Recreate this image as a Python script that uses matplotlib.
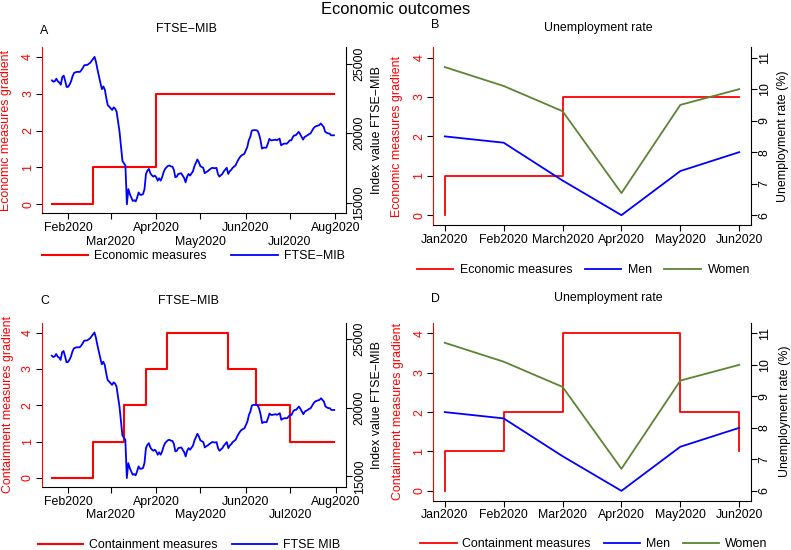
import matplotlib
matplotlib.use("Agg")
import matplotlib.pyplot as plt
from matplotlib.lines import Line2D
import pandas as pd

plt.rcParams['font.family'] = ['Liberation Sans', 'DejaVu Sans']
plt.rcParams['font.size'] = 8.9

# FTSE-MIB daily index values (2020)
ftse_days = [
    '01-21', '01-22', '01-23', '01-24', '01-25', '01-26', '01-27', '01-28', '01-29', '01-30', '01-31',
    '02-01', '02-02', '02-03', '02-04', '02-05', '02-06', '02-07', '02-09', '02-10', '02-11', '02-12',
    '02-14', '02-15', '02-16', '02-17', '02-18', '02-19', '02-20', '02-21', '02-22', '02-23', '02-24',
    '02-25', '02-26', '02-27', '02-28', '02-29', '03-01', '03-02', '03-03', '03-04', '03-05', '03-06',
    '03-07', '03-08', '03-09', '03-10', '03-11', '03-12', '03-13', '03-14', '03-15', '03-16', '03-17',
    '03-18', '03-19', '03-20', '03-21', '03-22', '03-23', '03-24', '03-25', '03-26', '03-27', '03-28',
    '03-29', '03-30', '03-31', '04-01', '04-02', '04-03', '04-04', '04-05', '04-06', '04-07', '04-08',
    '04-09', '04-10', '04-11', '04-12', '04-13', '04-14', '04-15', '04-16', '04-18', '04-19', '04-20',
    '04-21', '04-22', '04-23', '04-24', '04-26', '04-27', '04-29', '04-30', '05-01', '05-03', '05-04',
    '05-05', '05-06', '05-07', '05-09', '05-11', '05-12', '05-13', '05-14', '05-16', '05-17', '05-19',
    '05-20', '05-21', '05-22', '05-23', '05-25', '05-26', '05-27', '05-28', '05-29', '05-31', '06-01',
    '06-02', '06-03', '06-04', '06-05', '06-06', '06-08', '06-09', '06-10', '06-11', '06-12', '06-13',
    '06-15', '06-16', '06-17', '06-18', '06-19', '06-21', '06-22', '06-24', '06-25', '06-26', '06-27',
    '06-29', '06-30', '07-01', '07-02', '07-03', '07-04', '07-05', '07-07', '07-08', '07-09', '07-10',
    '07-11', '07-13', '07-14', '07-15', '07-17', '07-18', '07-19', '07-21', '07-22', '07-23', '07-24',
    '07-25', '07-27', '07-28', '07-29', '07-31',
]
ftse_values = [
    23790, 23690, 23740, 23910, 23720, 23640, 23480, 24030, 24130, 23750, 23310,
    23330, 23490, 23720, 24080, 24320, 24370, 24400, 24400, 24520, 24690, 24880,
    24900, 24980, 25050, 25190, 25340, 25480, 25100, 24560, 24080, 23600, 23160,
    23350, 23110, 22510, 22000, 21900, 21780, 21660, 21850, 21760, 21540, 20810,
    20090, 19000, 17980, 17830, 17670, 14880, 15970, 15610, 15370, 15120, 15170,
    15080, 15370, 15730, 15560, 15560, 15610, 15970, 17060, 17300, 17420, 17110,
    16960, 16870, 16940, 16820, 16580, 16750, 16580, 16820, 17180, 17420, 17540,
    17640, 17665, 17600, 17590, 17360, 16820, 16870, 17060, 17110, 16940, 16770,
    16455, 16870, 17060, 16940, 17250, 17620, 18100, 17910, 17620, 17500, 17110,
    17200, 17250, 17350, 17500, 17470, 17500, 17060, 16870, 17060, 17250, 17500,
    17060, 17250, 17350, 17500, 17670, 17910, 18100, 18270, 18390, 18510, 18750,
    19000, 19480, 19720, 20160, 20210, 20210, 20160, 19920, 19480, 18880, 18950,
    18950, 19240, 19580, 19480, 19480, 19530, 19480, 19600, 19120, 19190, 19240,
    19240, 19360, 19480, 19480, 19720, 19840, 19840, 20090, 19920, 19720, 19530,
    19720, 19840, 19920, 19970, 20330, 20450, 20500, 20570, 20690, 20570, 20450,
    20090, 19970, 19970, 19840, 19840,
]

# measure gradients: date from which each level applies
econ_days = ['01-21', '02-18', '04-01', '07-31']
econ_levels = [0, 1, 3, 3]
cont_days = ['01-21', '02-18', '03-10', '03-25', '04-08', '05-20', '06-08', '07-01', '07-31']
cont_levels = [0, 1, 2, 3, 4, 3, 2, 1, 1]

# monthly unemployment rate (%)
months_b = ['Jan2020', 'Feb2020', 'March2020', 'Apr2020', 'May2020', 'Jun2020']
months_d = ['Jan2020', 'Feb2020', 'Mar2020', 'Apr2020', 'May2020', 'Jun2020']
men_rate = [8.5, 8.3, 7.1, 6.0, 7.4, 8.0]
women_rate = [10.7, 10.1, 9.3, 6.7, 9.5, 10.0]
econ_month_levels = [0, 1, 1, 3, 3, 3]
cont_month_pos = [1, 2, 3, 4, 5, 6, 6]
cont_month_levels = [0, 1, 2, 4, 4, 2, 1]

RED = '#ff0000'
BLUE = '#0000ff'
GREEN = '#5b8533'
W, H = 791, 550

ftse_d = pd.to_datetime(['2020-' + d for d in ftse_days])
econ_d = pd.to_datetime(['2020-' + d for d in econ_days])
cont_d = pd.to_datetime(['2020-' + d for d in cont_days])

fig = plt.figure(figsize=(W / 100, H / 100), dpi=100)


def rect(left, top, right, bottom):
    return [left / W, 1 - bottom / H, (right - left) / W, (bottom - top) / H]


def make_axes(r):
    ax = fig.add_axes(r)
    ax2 = ax.twinx()
    ax.spines['top'].set_visible(False)
    ax.spines['right'].set_visible(False)
    ax.spines['left'].set_color(RED)
    for s in ('top', 'left', 'bottom'):
        ax2.spines[s].set_visible(False)
    for a in (ax, ax2):
        for s in a.spines.values():
            s.set_linewidth(0.8)
        a.tick_params(length=4.5, width=0.8, pad=1)
    ax.tick_params(axis='x', pad=1.8)
    ax.tick_params(axis='x', which='minor', length=4.5, width=0.8, pad=11.6)
    ax.tick_params(axis='y', labelcolor=RED, labelrotation=90)
    ax2.tick_params(axis='y', labelrotation=90)
    return ax, ax2


def finish_y(ax, ax2, left_label, right_label, lx, rx):
    for lbl in ax.get_yticklabels() + ax2.get_yticklabels():
        lbl.set_va('center')
    ax.set_ylabel(left_label, color=RED, va='center')
    ax.yaxis.set_label_coords(lx, 0.5)
    ax2.set_ylabel(right_label, va='center', rotation=90)
    ax2.yaxis.set_label_coords(rx, 0.5)


def date_axis(ax):
    ax.set_xlim(pd.Timestamp('2020-01-14'), pd.Timestamp('2020-08-08'))
    major = pd.to_datetime(['2020-02-01', '2020-04-01', '2020-06-01', '2020-08-01'])
    minor = pd.to_datetime(['2020-03-01', '2020-05-01', '2020-07-01'])
    ax.set_xticks(major, [d.strftime('%b%Y') for d in major])
    ax.set_xticks(minor, [d.strftime('%b%Y') for d in minor], minor=True)


# ---- A: economic measures vs FTSE-MIB
ax, ax2 = make_axes(rect(41.7, 47, 345.7, 213.3))
ax.plot(econ_d, econ_levels, drawstyle='steps-post', color=RED, lw=1.5)
ax2.plot(ftse_d, ftse_values, color=BLUE, lw=1.3)
date_axis(ax)
ax.set_ylim(-0.25, 4.27)
ax.set_yticks([0, 1, 2, 3, 4])
ax2.set_ylim(14230, 26190)
ax2.set_yticks([15000, 20000, 25000])
finish_y(ax, ax2, 'Economic measures gradient', 'Index value FTSE\u2212MIB', -0.117, 1.102)

# ---- B: economic measures vs unemployment
ax, ax2 = make_axes(rect(433, 47, 751, 225))
x = range(1, 7)
ax.plot(x, econ_month_levels, drawstyle='steps-pre', color=RED, lw=1.3)
ax2.plot(x, men_rate, color=BLUE, lw=1.3)
ax2.plot(x, women_rate, color=GREEN, lw=1.3)
ax.set_xlim(0.8, 6.2)
ax.set_xticks(list(x), months_b)
ax.set_ylim(-0.25, 4.27)
ax.set_yticks([0, 1, 2, 3, 4])
ax2.set_ylim(6 - 0.25 * 1.25, 6 + 4.27 * 1.25)
ax2.set_yticks([6, 7, 8, 9, 10, 11])
finish_y(ax, ax2, 'Economic measures gradient', 'Unemployment rate (%)', -0.113, 1.102)

# ---- C: containment measures vs FTSE-MIB
ax, ax2 = make_axes(rect(41.5, 322.7, 346, 487))
ax.plot(cont_d, cont_levels, drawstyle='steps-post', color=RED, lw=1.5)
ax2.plot(ftse_d, ftse_values, color=BLUE, lw=1.3)
date_axis(ax)
ax.set_ylim(-0.25, 4.27)
ax.set_yticks([0, 1, 2, 3, 4])
ax2.set_ylim(14230, 26190)
ax2.set_yticks([15000, 20000, 25000])
finish_y(ax, ax2, 'Containment measures gradient', 'Index value FTSE\u2212MIB', -0.11, 1.103)

# ---- D: containment measures vs unemployment
ax, ax2 = make_axes(rect(433, 322.7, 751, 500.7))
ax.plot(cont_month_pos, cont_month_levels, drawstyle='steps-pre', color=RED, lw=1.3)
ax2.plot(x, men_rate, color=BLUE, lw=1.3)
ax2.plot(x, women_rate, color=GREEN, lw=1.3)
ax.set_xlim(0.8, 6.2)
ax.set_xticks(list(x), months_d)
ax.set_ylim(-0.25, 4.27)
ax.set_yticks([0, 1, 2, 3, 4])
ax2.set_ylim(6 - 0.25 * 1.25, 6 + 4.27 * 1.25)
ax2.set_yticks([6, 7, 8, 9, 10, 11])
finish_y(ax, ax2, 'Containment measures gradient', 'Unemployment rate (%)', -0.11, 1.108)

# ---- titles
fig.text(395.5 / W, 1 - 10 / H, 'Economic outcomes', ha='center', va='center', fontsize=11.9)
for letter, lx, ly in [('A', 40, 31), ('B', 431, 25), ('C', 40, 301), ('D', 431, 299)]:
    fig.text(lx / W, 1 - ly / H, letter, ha='left', va='center')
for title, tx, ty in [('FTSE\u2212MIB', 186.5, 29.5), ('Unemployment rate', 598.5, 28.3),
                      ('FTSE\u2212MIB', 188.3, 301), ('Unemployment rate', 608.8, 298.3)]:
    fig.text(tx / W, 1 - ty / H, title, ha='center', va='center')

# ---- legends below each panel
def line(c, lw=1.3):
    return Line2D([], [], color=c, lw=lw)


legends = [
    ([line(RED, 1.5), line(BLUE)], ['Economic measures', 'FTSE\u2212MIB'], 41.7, 256, 3.76, 0.48, 2.0),
    ([line(RED), line(BLUE), line(GREEN)], ['Economic measures', 'Men', 'Women'], 416.7, 270, 2.96, 0.54, 1.0),
    ([line(RED, 1.5), line(BLUE)], ['Containment measures', 'FTSE MIB'], 38.3, 545, 3.63, 0.48, 1.2),
    ([line(RED), line(BLUE), line(GREEN)], ['Containment measures', 'Men', 'Women'], 420, 544.3, 2.96, 0.45, 1.05),
]
for handles, labels, lx, ly, hl, htp, cs in legends:
    fig.legend(handles, labels, loc='center left', bbox_to_anchor=(lx / W, 1 - ly / H),
               ncol=len(handles), frameon=False, handlelength=hl, handletextpad=htp,
               columnspacing=cs, borderpad=0, borderaxespad=0)

fig.savefig('out.png', dpi=100)
